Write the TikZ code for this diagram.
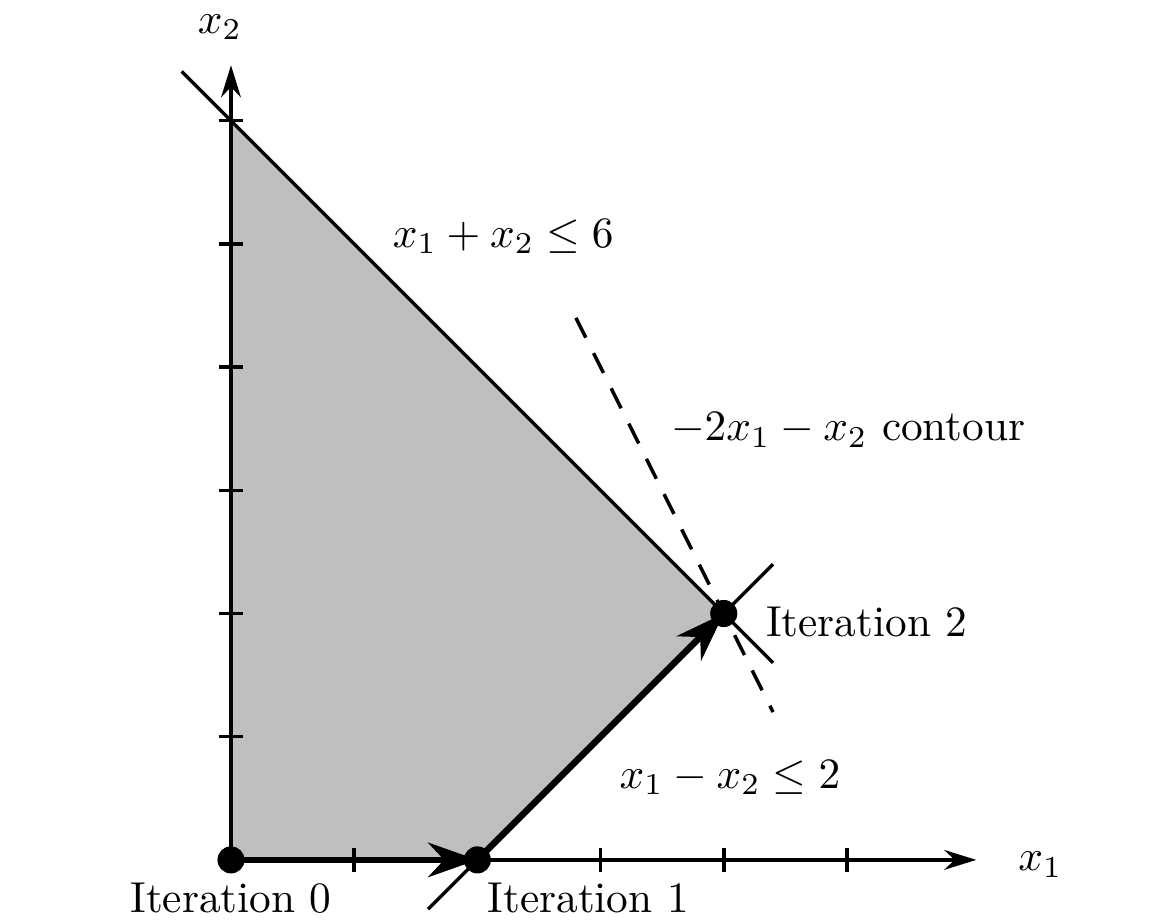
\documentclass[tikz,border=0pt]{standalone}
\usetikzlibrary{arrows.meta}
\begin{document}
\begin{tikzpicture}[
  axisline/.style={line width=0.85pt,-{Stealth[length=2.6mm,width=1.6mm]}},
  thinline/.style={line width=0.8pt},
  tickline/.style={line width=0.8pt},
  boldarrow/.style={line width=1.5pt,-{Stealth[length=4mm,width=2.8mm]}},
  dot/.style={circle,fill=black,inner sep=0pt,minimum size=2.2mm},
  lbl/.style={inner sep=0pt}
]
\useasboundingbox[fill=white] (-1.875,-0.495) rectangle (7.476,6.98);
% region
\fill[gray!50] (0,0) -- (2,0) -- (4,2) -- (0,6) -- cycle;
% constraint lines
\coordinate (c1a) at (-0.4,6.4);
\coordinate (c1b) at (4.4,1.6);
\coordinate (c2a) at (1.6,-0.4);
\coordinate (c2b) at (4.4,2.4);
\coordinate (d1) at (2.8,4.4);
\coordinate (d2) at (4.4,1.2);
\draw[thinline] (c1a) -- (c1b);
\draw[thinline] (c2a) -- (c2b);
\draw[thinline,dash pattern=on 1.8mm off 1.4mm] (d1) -- (d2);
% axes
\coordinate (o) at (0,0);
\coordinate (xe) at (6.05,0);
\coordinate (ye) at (0,6.45);
\draw[axisline] (o) -- (xe);
\draw[axisline] (o) -- (ye);
\foreach \i in {1,...,5} \draw[tickline] (\i,-0.1) -- (\i,0.1);
\foreach \i in {1,...,6} \draw[tickline] (-0.1,\i) -- (0.1,\i);
\node[lbl] (lx1) at (6.57,-0.04) {$x_1$};
\node[lbl] (lx2) at (-0.09,6.76) {$x_2$};
% points
\node[dot] (p0) at (0,0) {};
\node[dot] (p1) at (2,0) {};
\node[dot] (p2) at (4,2) {};
\draw[boldarrow] (p0.center) -- (p1.center);
\draw[boldarrow] (p1.center) -- (p2.center);
% labels
\node[lbl] (it0) at (0,-0.31) {Iteration 0};
\node[lbl] (it1) at (2.9,-0.31) {Iteration 1};
\node[lbl] (it2) at (5.16,1.93) {Iteration 2};
\node[lbl] (lc1) at (2.21,5.06) {$x_1+x_2\le 6$};
\node[lbl] (lc2) at (4.05,0.67) {$x_1-x_2\le 2$};
\node[lbl] (lcon) at (5.01,3.49) {$-2x_1-x_2$ contour};
\end{tikzpicture}
\end{document}
